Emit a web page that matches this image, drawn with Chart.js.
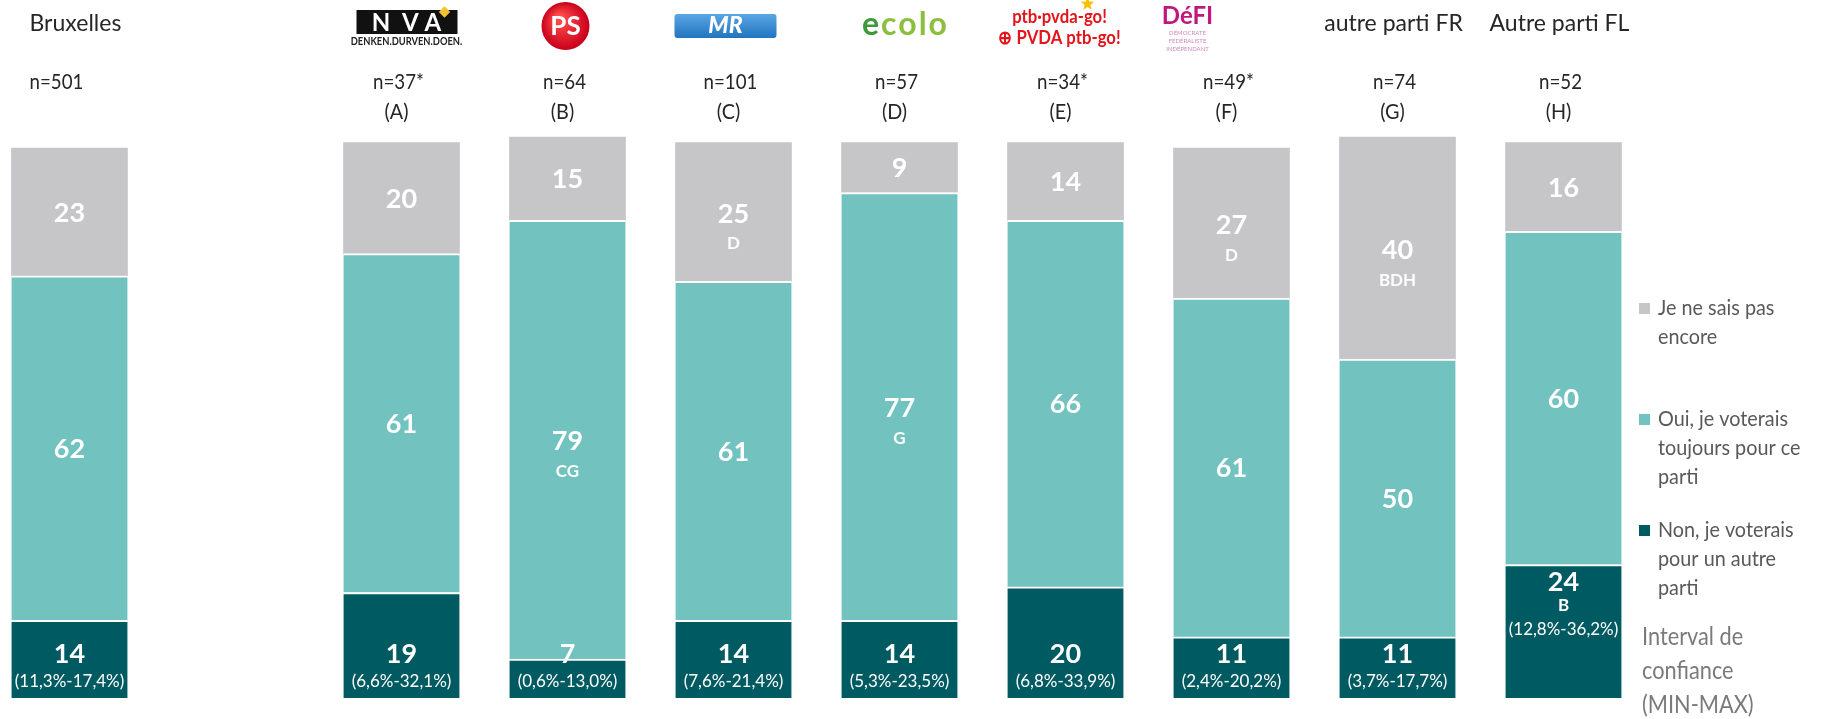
<!DOCTYPE html>
<html>
<head>
<meta charset="utf-8">
<script src="https://cdn.jsdelivr.net/npm/chart.js@4.4.0/dist/chart.umd.min.js"></script>
<style>
  html, body { margin: 0; padding: 0; background: #fff; }
  #wrap { width: 1821px; height: 719px; position: relative; overflow: hidden; }
</style>
</head>
<body>
<div id="wrap"><canvas id="voteChart" width="1821" height="719"></canvas></div>
<script>
// data
const categories = ['Bruxelles', '', 'N-VA', 'PS', 'MR', 'Ecolo', 'PTB', 'DéFI', 'autre parti FR', 'Autre parti FL'];
const sampleSizes = ['n=501', '', 'n=37*', 'n=64', 'n=101', 'n=57', 'n=34*', 'n=49*', 'n=74', 'n=52'];
const groupCodes = ['', '', '(A)', '(B)', '(C)', '(D)', '(E)', '(F)', '(G)', '(H)'];

const nonValues = [14, null, 19, 7, 14, 14, 20, 11, 11, 24];
const ouiValues = [62, null, 61, 79, 61, 77, 66, 61, 50, 60];
const nspValues = [23, null, 20, 15, 25, 9, 14, 27, 40, 16];

const nonSig = ['', '', '', '', '', '', '', '', '', 'B'];
const ouiSig = ['', '', '', 'CG', '', 'G', '', '', '', ''];
const nspSig = ['', '', '', '', 'D', '', '', 'D', 'BDH', ''];

const confIntervals = ['(11,3%-17,4%)', '', '(6,6%-32,1%)', '(0,6%-13,0%)', '(7,6%-21,4%)',
  '(5,3%-23,5%)', '(6,8%-33,9%)', '(2,4%-20,2%)', '(3,7%-17,7%)', '(12,8%-36,2%)'];

const legendLabels = ['Non, je voterais pour un autre parti', 'Oui, je voterais toujours pour ce parti', 'Je ne sais pas encore'];
const ciNote = ['Interval de', 'confiance', '(MIN-MAX)'];

const COLORS = { non: '#005a62', oui: '#72c2c0', nsp: '#c6c6c8' };
const FONT = 'Lato, "Open Sans", sans-serif';
const sigByDataset = [nonSig, ouiSig, nspSig];

// text squeezed horizontally (Calibri-like width)
function narrowText(ctx, text, x, y, sx) {
  ctx.save();
  ctx.translate(x, y);
  ctx.scale(sx, 1);
  ctx.fillText(text, 0, 0);
  ctx.restore();
}

// logos drawn as simple shapes / text
function drawNva(ctx, cx) {
  ctx.fillStyle = '#111';
  ctx.fillRect(cx - 45, 10, 101, 24);
  ctx.fillStyle = '#fff';
  ctx.font = 'bold 24px ' + FONT;
  ctx.textAlign = 'center';
  ctx.textBaseline = 'middle';
  ctx.fillText('N  V A', cx + 5, 23);
  ctx.save();
  ctx.translate(cx + 43, 12);
  ctx.rotate(Math.PI / 4);
  ctx.fillStyle = '#f2c230';
  ctx.fillRect(-4, -4, 8, 8);
  ctx.restore();
  ctx.fillStyle = '#222';
  ctx.font = 'bold 11px ' + FONT;
  narrowText(ctx, 'DENKEN.DURVEN.DOEN.', cx + 5, 41, 0.85);
}

function drawPs(ctx, cx) {
  const g = ctx.createRadialGradient(cx - 6, 18, 4, cx, 26, 24);
  g.addColorStop(0, '#ff4a4a');
  g.addColorStop(1, '#c8001a');
  ctx.fillStyle = g;
  ctx.beginPath();
  ctx.arc(cx, 26, 24, 0, Math.PI * 2);
  ctx.fill();
  ctx.fillStyle = '#fff';
  ctx.font = 'bold 26px ' + FONT;
  ctx.textAlign = 'center';
  ctx.textBaseline = 'middle';
  ctx.fillText('PS', cx, 27);
}

function drawMr(ctx, cx) {
  const g = ctx.createLinearGradient(0, 14, 0, 39);
  g.addColorStop(0, '#5aa6e4');
  g.addColorStop(1, '#1f72bd');
  ctx.fillStyle = g;
  ctx.beginPath();
  ctx.roundRect(cx - 51, 14, 102, 24, 3);
  ctx.fill();
  ctx.fillStyle = '#fff';
  ctx.font = 'italic 900 23px ' + FONT;
  ctx.textAlign = 'center';
  ctx.textBaseline = 'middle';
  ctx.fillText('MR', cx, 26);
}

function drawEcolo(ctx, cx) {
  ctx.font = 'bold 32px ' + FONT;
  ctx.textBaseline = 'middle';
  ctx.textAlign = 'left';
  ctx.letterSpacing = '2px';
  const w1 = ctx.measureText('e').width;
  const w = ctx.measureText('ecolo').width;
  const x0 = cx - w / 2;
  ctx.fillStyle = '#3d9a3a';
  ctx.fillText('e', x0, 25);
  ctx.fillStyle = '#8cbf3f';
  ctx.fillText('colo', x0 + w1, 25);
  ctx.letterSpacing = '0px';
}

function drawPtb(ctx, cx) {
  ctx.fillStyle = '#e3141b';
  ctx.textAlign = 'center';
  ctx.textBaseline = 'middle';
  ctx.font = 'bold 19px ' + FONT;
  narrowText(ctx, 'ptb·pvda-go!', cx, 17, 0.88);
  narrowText(ctx, '⊕ PVDA ptb-go!', cx, 38, 0.88);
  ctx.fillStyle = '#f7c000';
  ctx.beginPath();
  for (let k = 0; k < 10; k++) {
    const r = k % 2 ? 3 : 7;
    const a = -Math.PI / 2 + k * Math.PI / 5;
    ctx.lineTo(cx + 28 + r * Math.cos(a), 4 + r * Math.sin(a));
  }
  ctx.fill();
}

function drawDefi(ctx, cx) {
  ctx.fillStyle = '#c0177f';
  ctx.textAlign = 'center';
  ctx.textBaseline = 'middle';
  ctx.font = 'bold 24px ' + FONT;
  ctx.fillText('DéFI', cx, 16);
  ctx.fillStyle = '#d48ab8';
  ctx.font = '6px ' + FONT;
  ctx.fillText('DÉMOCRATE', cx, 33);
  ctx.fillText('FÉDÉRALISTE', cx, 41);
  ctx.fillText('INDÉPENDANT', cx, 49);
}

const logos = {
  'N-VA': [drawNva, 0], 'PS': [drawPs, -2], 'MR': [drawMr, -8],
  'Ecolo': [drawEcolo, 6], 'PTB': [drawPtb, -6], 'DéFI': [drawDefi, -44]
};

function wrapText(ctx, text, maxW) {
  const words = text.split(' ');
  const lines = [];
  let cur = '';
  words.forEach(w => {
    const test = cur ? cur + ' ' + w : w;
    if (ctx.measureText(test).width > maxW && cur) {
      lines.push(cur);
      cur = w;
    } else {
      cur = test;
    }
  });
  if (cur) lines.push(cur);
  return lines;
}

const headerPlugin = {
  id: 'headerPlugin',
  afterDraw(chart) {
    const ctx = chart.ctx;
    const xs = chart.scales.x;
    ctx.save();
    ctx.textBaseline = 'middle';
    categories.forEach((cat, i) => {
      if (!cat) return;
      const cx = xs.getPixelForValue(i);
      ctx.fillStyle = '#262626';
      if (i === 0) {
        // Bruxelles : left aligned
        ctx.textAlign = 'left';
        ctx.font = '23px ' + FONT;
        ctx.fillText(cat, cx - 40, 24);
        ctx.font = '22px ' + FONT;
        narrowText(ctx, sampleSizes[i], cx - 40, 82, 0.85);
        return;
      }
      ctx.textAlign = 'center';
      if (logos[cat]) {
        ctx.save();
        logos[cat][0](ctx, cx + logos[cat][1]);
        ctx.restore();
      } else {
        ctx.font = '23px ' + FONT;
        ctx.fillText(cat, cx - 4, 24);
      }
      ctx.fillStyle = '#262626';
      ctx.textAlign = 'center';
      ctx.textBaseline = 'middle';
      ctx.font = '22px ' + FONT;
      narrowText(ctx, sampleSizes[i], cx - 3, 82, 0.85);
      narrowText(ctx, groupCodes[i], cx - 5, 112, 0.9);
    });

    // legend
    const sx = 0.9;
    ctx.textAlign = 'left';
    ctx.font = '22px ' + FONT;
    [2, 1, 0].forEach((di, k) => {
      const ds = chart.data.datasets[di];
      const y0 = 308 + k * 111;
      ctx.fillStyle = ds.backgroundColor;
      ctx.fillRect(1639, y0 - 5, 11, 11);
      ctx.fillStyle = '#595959';
      wrapText(ctx, ds.label, 163 / sx).forEach((line, j) => {
        narrowText(ctx, line, 1658, y0 + j * 29, sx);
      });
    });

    ctx.fillStyle = '#7a7a7a';
    ctx.font = '25px ' + FONT;
    ciNote.forEach((line, j) => narrowText(ctx, line, 1642, 637 + j * 34, 0.87));
    ctx.restore();
  }
};

const barLabels = {
  id: 'barLabels',
  afterDatasetsDraw(chart) {
    const ctx = chart.ctx;
    ctx.save();
    ctx.textAlign = 'center';
    ctx.textBaseline = 'middle';
    ctx.fillStyle = '#fff';
    chart.data.datasets.forEach((ds, di) => {
      const meta = chart.getDatasetMeta(di);
      meta.data.forEach((bar, i) => {
        const v = ds.data[i];
        if (v == null) return;
        const { x, y, base } = bar.getProps(['x', 'y', 'base'], true);
        const sig = sigByDataset[di][i];
        const mid = (y + base) / 2;
        if (di === 0) {
          let numY, sigY, ciY;
          if (sig) {
            numY = y + 18;
            sigY = numY + 23;
            ciY = sigY + 24;
          } else {
            ciY = base - 16;
            numY = ciY - 28;
          }
          ctx.font = 'bold 27px ' + FONT;
          ctx.fillText(String(v), x, numY);
          if (sig) {
            ctx.font = 'bold 17px ' + FONT;
            ctx.fillText(sig, x, sigY);
          }
          ctx.font = '17px ' + FONT;
          ctx.fillText(confIntervals[i], x, ciY);
        } else {
          const numY = sig ? mid + 2 : mid + 1;
          ctx.font = 'bold 27px ' + FONT;
          ctx.fillText(String(v), x, numY);
          if (sig) {
            ctx.font = 'bold 17px ' + FONT;
            ctx.fillText(sig, x, numY + 30);
          }
        }
      });
    });
    ctx.restore();
  }
};

const gapBorder = { top: 2, right: 0, bottom: 0, left: 0 };

new Chart(document.getElementById('voteChart').getContext('2d'), {
  type: 'bar',
  data: {
    labels: categories,
    datasets: [
      { label: legendLabels[0], data: nonValues, backgroundColor: COLORS.non, borderColor: '#fff', borderWidth: gapBorder, borderSkipped: false, clip: false },
      { label: legendLabels[1], data: ouiValues, backgroundColor: COLORS.oui, borderColor: '#fff', borderWidth: gapBorder, borderSkipped: false, clip: false },
      { label: legendLabels[2], data: nspValues, backgroundColor: COLORS.nsp, borderWidth: 0, clip: false }
    ]
  },
  options: {
    responsive: false,
    animation: false,
    barThickness: 116,
    layout: { padding: { left: 69.5, right: 257.5, top: 137, bottom: 21 } },
    scales: {
      x: { stacked: true, display: false, offset: false },
      y: { stacked: true, display: false, min: 0, max: 101 }
    },
    plugins: {
      legend: { display: false },
      tooltip: { enabled: false }
    }
  },
  plugins: [barLabels, headerPlugin]
});
</script>
</body>
</html>
